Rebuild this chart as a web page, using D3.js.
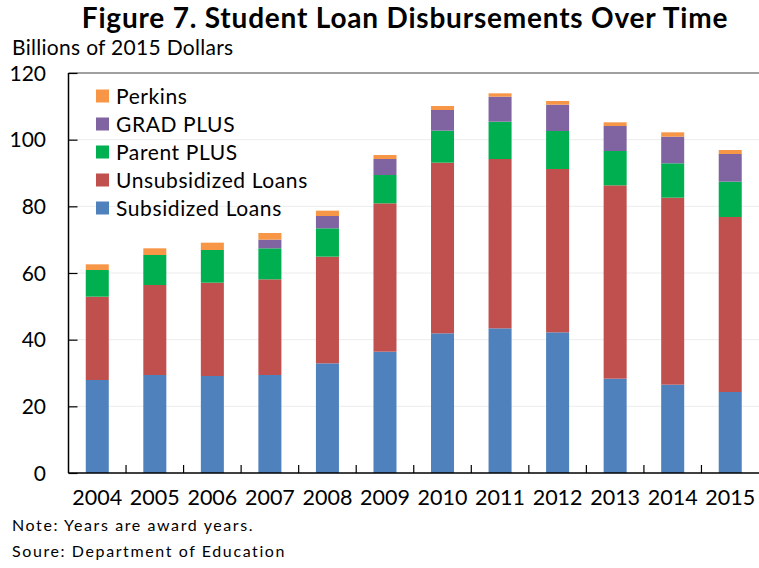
<!DOCTYPE html>
<html>
<head>
<meta charset="utf-8">
<script src="https://cdn.jsdelivr.net/npm/d3@7"></script>
<style>
  html, body { margin: 0; padding: 0; background: #fff; }
  svg { display: block; font-family: Lato, "Open Sans", sans-serif; }
</style>
</head>
<body>
<svg id="chart" width="759" height="568"></svg>
<script>
// Award years and disbursements by loan type (billions of 2015 dollars)
const years = ["2004","2005","2006","2007","2008","2009","2010","2011","2012","2013","2014","2015"];
const subsidized   = [27.9, 29.4, 29.1, 29.4, 32.9, 36.4, 41.9, 43.4, 42.2, 28.3, 26.5, 24.3];
const unsubsidized = [25.0, 27.0, 28.0, 28.7, 32.0, 44.5, 51.2, 50.8, 49.0, 58.0, 56.1, 52.5];
const parentPlus   = [ 8.0,  9.0,  9.8,  9.3,  8.5,  8.5,  9.6, 11.2, 11.4, 10.3, 10.3, 10.6];
const gradPlus     = [ 0.0,  0.0,  0.0,  2.6,  3.7,  4.8,  6.2,  7.5,  7.9,  7.5,  8.0,  8.3];
const perkins      = [ 1.7,  2.0,  2.2,  2.0,  1.6,  1.2,  1.2,  1.0,  1.1,  1.1,  1.3,  1.2];
const yTicks = [0, 20, 40, 60, 80, 100, 120];

const seriesNames = ["Subsidized Loans", "Unsubsidized Loans", "Parent PLUS", "GRAD PLUS", "Perkins"];
const seriesValues = [subsidized, unsubsidized, parentPlus, gradPlus, perkins];
const colors = ["#4f81bd", "#c0504d", "#00b050", "#8064a2", "#f79646"];

const rows = years.map((yr, i) => {
  const r = { year: yr };
  seriesNames.forEach((n, k) => r[n] = seriesValues[k][i]);
  return r;
});

const svg = d3.select("#chart");
const plotLeft = 68.5, plotRight = 759, plotTop = 73, plotBottom = 473;

const x = d3.scaleBand().domain(years).range([plotLeft, plotRight]).paddingInner(0.6).paddingOuter(0.3);
const xb = d3.scaleBand().domain(years).range([plotLeft, plotRight]);
const y = d3.scaleLinear().domain([0, 120]).range([plotBottom, plotTop]);

// Title and axis caption
svg.append("text").attr("x", 405).attr("y", 28).attr("text-anchor", "middle")
  .attr("font-size", 28).attr("font-weight", "bold").attr("letter-spacing", 0.8)
  .text("Figure 7. Student Loan Disbursements Over Time");
svg.append("text").attr("x", 12).attr("y", 55).attr("font-size", 21).attr("letter-spacing", 0.3)
  .text("Billions of 2015 Dollars");

// Gridlines
svg.append("g").selectAll("line").data(yTicks.filter(t => t > 0 && t < 120)).join("line")
  .attr("x1", plotLeft).attr("x2", plotRight).attr("y1", d => y(d)).attr("y2", d => y(d))
  .attr("stroke", "#ececec").attr("stroke-width", 1);

// Top frame line
svg.append("line").attr("x1", plotLeft).attr("x2", plotRight).attr("y1", plotTop).attr("y2", plotTop)
  .attr("stroke", "#808080").attr("stroke-width", 1.5);

// Stacked bars
const stack = d3.stack().keys(seriesNames)(rows);
svg.append("g").selectAll("g").data(stack).join("g")
  .attr("fill", (d, i) => colors[i])
  .selectAll("rect").data(d => d).join("rect")
  .attr("x", d => x(d.data.year))
  .attr("width", x.bandwidth())
  .attr("y", d => y(d[1]))
  .attr("height", d => Math.max(0, y(d[0]) - y(d[1])));

// Y axis with inward ticks
const yAxis = svg.append("g").attr("transform", `translate(${plotLeft},0)`)
  .call(d3.axisRight(y).tickValues(yTicks).tickSize(9).tickFormat(""));
yAxis.select(".domain").remove();
yAxis.selectAll(".tick line").attr("stroke", "#000").attr("stroke-width", 1.2);
svg.append("line").attr("x1", plotLeft).attr("x2", plotLeft).attr("y1", plotTop).attr("y2", plotBottom)
  .attr("stroke", "#000").attr("stroke-width", 1.5);
svg.append("g").selectAll("text").data(yTicks).join("text")
  .attr("x", 46).attr("y", d => y(d) + 7.5).attr("text-anchor", "end")
  .attr("font-size", 21).text(d => d);

// X axis: ticks at category boundaries, pointing up
svg.append("g").selectAll("line").data(years.slice(1)).join("line")
  .attr("x1", d => xb(d)).attr("x2", d => xb(d))
  .attr("y1", plotBottom).attr("y2", plotBottom - 8)
  .attr("stroke", "#000").attr("stroke-width", 1.2);
svg.append("line").attr("x1", plotLeft).attr("x2", plotRight).attr("y1", plotBottom).attr("y2", plotBottom)
  .attr("stroke", "#000").attr("stroke-width", 1.5);
svg.append("g").selectAll("text").data(years).join("text")
  .attr("x", d => xb(d) + xb.bandwidth() / 2).attr("y", 505).attr("text-anchor", "middle")
  .attr("font-size", 21.5).text(d => d);

// Legend (top series first)
const legend = svg.append("g");
const order = [4, 3, 2, 1, 0];
order.forEach((k, i) => {
  const cy = 96 + i * 28;
  legend.append("rect").attr("x", 96).attr("y", cy - 6.5).attr("width", 13).attr("height", 13).attr("fill", colors[k]);
  legend.append("text").attr("x", 116).attr("y", cy + 7.5).attr("font-size", 21).attr("letter-spacing", 0.6)
    .text(seriesNames[k]);
});

// Notes
svg.append("text").attr("x", 12).attr("y", 531).attr("font-size", 16).attr("letter-spacing", 1.6)
  .text("Note: Years are award years.");
svg.append("text").attr("x", 12).attr("y", 557).attr("font-size", 16).attr("letter-spacing", 1.6)
  .text("Soure: Department of Education");
</script>
</body>
</html>
